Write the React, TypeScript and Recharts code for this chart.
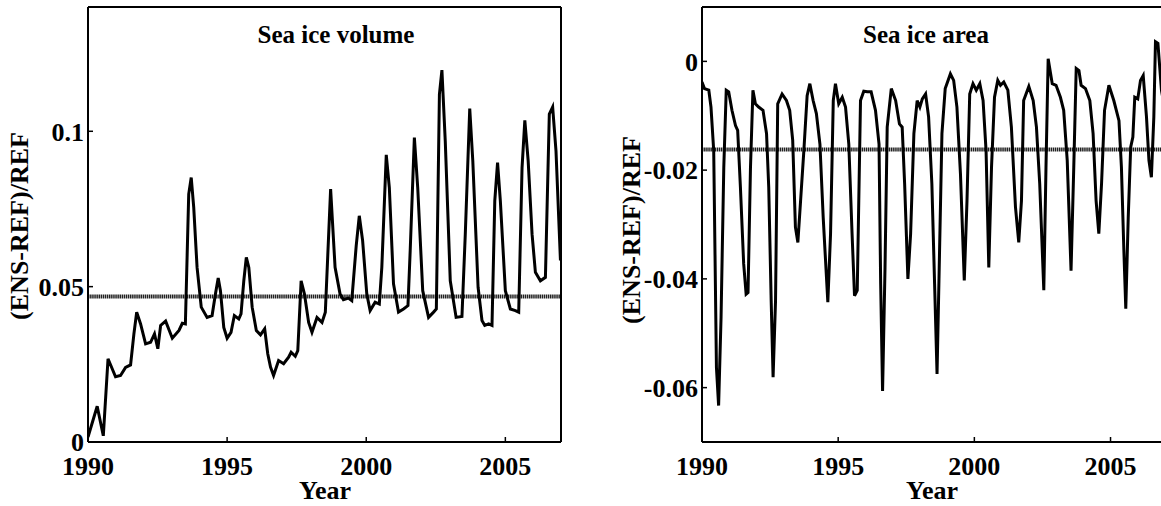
import { LineChart, Line, XAxis, YAxis, ReferenceLine } from "recharts";

// sea ice volume, (ENS-REF)/REF
const volumeYears = [
  1990.0, 1990.33, 1990.55, 1990.72, 1990.99, 1991.17, 1991.35, 1991.53, 1991.65, 1991.75,
  1991.89, 1992.07, 1992.25, 1992.39, 1992.51, 1992.61, 1992.79, 1993.03, 1993.27, 1993.39,
  1993.5, 1993.62, 1993.71, 1993.8, 1993.92, 1994.07, 1994.28, 1994.46, 1994.58, 1994.68,
  1994.76, 1994.88, 1995.0, 1995.14, 1995.26, 1995.42, 1995.5, 1995.6, 1995.69, 1995.78,
  1995.9, 1996.05, 1996.2, 1996.35, 1996.46, 1996.56, 1996.67, 1996.85, 1997.03, 1997.21,
  1997.3, 1997.45, 1997.54, 1997.66, 1997.78, 1997.93, 1998.05, 1998.23, 1998.41, 1998.53,
  1998.72, 1998.88, 1999.06, 1999.18, 1999.36, 1999.48, 1999.64, 1999.75, 1999.87, 2000.02,
  2000.14, 2000.32, 2000.47, 2000.56, 2000.72, 2000.83, 2000.98, 2001.16, 2001.34, 2001.5,
  2001.58, 2001.73, 2001.85, 2002.03, 2002.24, 2002.42, 2002.52, 2002.63, 2002.72, 2002.84,
  2003.02, 2003.23, 2003.44, 2003.56, 2003.72, 2003.83, 2004.02, 2004.16, 2004.26, 2004.4,
  2004.52, 2004.62, 2004.72, 2004.82, 2005.0, 2005.18, 2005.36, 2005.48, 2005.6, 2005.7,
  2005.82, 2005.96, 2006.08, 2006.26, 2006.44, 2006.58, 2006.7, 2006.82, 2006.98,
];
const volumeValues = [
  0.0016, 0.0115, 0.002, 0.0268, 0.021, 0.0214, 0.024, 0.0248, 0.0348, 0.0418,
  0.038, 0.0316, 0.0321, 0.0348, 0.03, 0.0375, 0.0389, 0.0334, 0.0359, 0.0382,
  0.038, 0.0798, 0.0851, 0.0755, 0.0562, 0.0434, 0.0401, 0.0407, 0.0476, 0.0528,
  0.0487, 0.0369, 0.0334, 0.0353, 0.0407, 0.0396, 0.0412, 0.0519, 0.0594, 0.0562,
  0.0434, 0.0359, 0.0345, 0.0364, 0.0284, 0.0241, 0.0214, 0.0262, 0.0252, 0.0273,
  0.0289, 0.0276, 0.0294, 0.0519, 0.0476, 0.0385, 0.0353, 0.0401, 0.0385, 0.0418,
  0.0814, 0.0562, 0.0476, 0.0458, 0.0463, 0.0455, 0.0632, 0.0728, 0.0648, 0.0476,
  0.0423, 0.045, 0.0444, 0.0562, 0.0924, 0.0819, 0.0509, 0.0418, 0.0428, 0.0439,
  0.0616, 0.098, 0.0819, 0.0487, 0.0401, 0.0418, 0.0428, 0.1119, 0.1197, 0.0969,
  0.0519, 0.0401, 0.0404, 0.0669, 0.1073, 0.0905, 0.0498, 0.0391, 0.0375, 0.038,
  0.0375, 0.0776, 0.0899, 0.0776, 0.0487, 0.0428, 0.0423, 0.0418, 0.0883, 0.1035,
  0.0905, 0.0669, 0.0546, 0.0519, 0.053, 0.1055, 0.1078, 0.0937, 0.0584,
];
const volumeMean = 0.0468;

// sea ice area, (ENS-REF)/REF
const areaYears = [
  1990.0, 1990.09, 1990.25, 1990.33, 1990.43, 1990.53, 1990.61, 1990.7, 1990.8, 1990.89,
  1990.98, 1991.1, 1991.23, 1991.31, 1991.41, 1991.53, 1991.62, 1991.69, 1991.78, 1991.87,
  1991.96, 1992.08, 1992.24, 1992.37, 1992.45, 1992.54, 1992.61, 1992.7, 1992.78, 1992.94,
  1993.1, 1993.22, 1993.33, 1993.43, 1993.52, 1993.62, 1993.74, 1993.86, 1993.96, 1994.08,
  1994.2, 1994.33, 1994.45, 1994.62, 1994.72, 1994.82, 1994.9, 1995.02, 1995.15, 1995.27,
  1995.39, 1995.51, 1995.6, 1995.7, 1995.82, 1995.94, 1996.07, 1996.21, 1996.37, 1996.5,
  1996.56, 1996.63, 1996.72, 1996.8, 1996.95, 1997.11, 1997.25, 1997.35, 1997.44, 1997.56,
  1997.66, 1997.78, 1997.9, 1998.0, 1998.09, 1998.21, 1998.32, 1998.44, 1998.54, 1998.63,
  1998.71, 1998.81, 1998.93, 1999.12, 1999.24, 1999.36, 1999.49, 1999.63, 1999.73, 1999.83,
  1999.95, 2000.07, 2000.2, 2000.32, 2000.43, 2000.53, 2000.63, 2000.74, 2000.86, 2000.96,
  2001.08, 2001.23, 2001.36, 2001.51, 2001.63, 2001.73, 2001.81, 2002.0, 2002.16, 2002.28,
  2002.4, 2002.55, 2002.63, 2002.71, 2002.86, 2003.0, 2003.16, 2003.28, 2003.41, 2003.55,
  2003.65, 2003.74, 2003.84, 2003.92, 2004.08, 2004.24, 2004.36, 2004.47, 2004.57, 2004.67,
  2004.78, 2004.94, 2005.12, 2005.31, 2005.4, 2005.49, 2005.56, 2005.65, 2005.74, 2005.82,
  2005.89, 2006.0, 2006.1, 2006.2, 2006.32, 2006.41, 2006.5, 2006.59, 2006.65, 2006.74,
  2006.87, 2007.0,
];
const areaValues = [
  -0.0038, -0.005, -0.0053, -0.0084, -0.0164, -0.0563, -0.0633, -0.047, -0.0195, -0.0053,
  -0.0056, -0.009, -0.0118, -0.0127, -0.0231, -0.0372, -0.0428, -0.0425, -0.0195, -0.0053,
  -0.0078, -0.0084, -0.009, -0.0133, -0.0231, -0.044, -0.0581, -0.044, -0.0078, -0.006,
  -0.0072, -0.009, -0.0145, -0.0305, -0.0333, -0.0256, -0.0164, -0.0063, -0.0041, -0.0072,
  -0.0096, -0.0152, -0.0287, -0.0443, -0.0317, -0.0072, -0.0041, -0.0078, -0.0066, -0.0084,
  -0.0152, -0.0317, -0.0431, -0.0421, -0.0072, -0.0055, -0.0056, -0.0056, -0.009, -0.0152,
  -0.0409, -0.0606, -0.0379, -0.0121, -0.005, -0.0072, -0.0115, -0.0121, -0.0225, -0.04,
  -0.0317, -0.0133, -0.0072, -0.0084, -0.0069, -0.006, -0.0102, -0.0225, -0.0409, -0.0575,
  -0.0379, -0.0133, -0.005, -0.0023, -0.0035, -0.0084, -0.0207, -0.0403, -0.0256, -0.006,
  -0.0041, -0.0053, -0.0041, -0.0072, -0.0164, -0.0379, -0.0195, -0.0066, -0.0035, -0.0044,
  -0.0038, -0.0053, -0.0121, -0.0268, -0.0333, -0.0256, -0.0072, -0.0046, -0.0072, -0.0121,
  -0.0225, -0.0421, -0.0195, 0.0005, -0.0041, -0.0044, -0.0066, -0.009, -0.0182, -0.0385,
  -0.0195, -0.0013, -0.0017, -0.0044, -0.005, -0.0072, -0.0133, -0.0256, -0.0317, -0.0225,
  -0.009, -0.0044, -0.0072, -0.0109, -0.0195, -0.0348, -0.0455, -0.0287, -0.0158, -0.0139,
  -0.0066, -0.0069, -0.0035, -0.0026, -0.0102, -0.0182, -0.0213, -0.0102, 0.0036, 0.0033,
  -0.0053, -0.009,
];
const areaMean = -0.0162;

const yearTicks = [1990, 1995, 2000, 2005];
const volumeTicks = [0, 0.05, 0.1];
const areaTicks = [-0.06, -0.04, -0.02, 0];

const volumeData = volumeYears.map((year, i) => ({ year, value: volumeValues[i] }));
const areaData = areaYears.map((year, i) => ({ year, value: areaValues[i] }));

const serif = '"Liberation Serif", "Times New Roman", serif';
const tickStyle = { fill: "#000", fontSize: 26, fontWeight: 700, fontFamily: serif };
const axisLine = { stroke: "#000", strokeWidth: 2 };
const tickLine = { stroke: "#000", strokeWidth: 1.5 };
const blank = () => "";

type PanelProps = {
  data: { year: number; value: number }[];
  yDomain: [number, number];
  yTicks: number[];
  mean: number;
  yAxisWidth: number;
  margin: { top: number; right: number; bottom: number; left: number };
};

function Panel({ data, yDomain, yTicks, mean, yAxisWidth, margin }: PanelProps) {
  return (
    <LineChart width={600} height={506} data={data} margin={margin} style={{ fontFamily: serif }}>
      <XAxis
        dataKey="year"
        type="number"
        domain={[1990, 2007]}
        ticks={yearTicks}
        allowDataOverflow
        height={64}
        tickSize={-5}
        tickMargin={20}
        tick={tickStyle}
        axisLine={axisLine}
        tickLine={tickLine}
      />
      <XAxis
        xAxisId="top"
        orientation="top"
        type="number"
        domain={[1990, 2007]}
        ticks={yearTicks}
        height={1}
        tickSize={-5}
        tickFormatter={blank}
        axisLine={axisLine}
        tickLine={tickLine}
      />
      <YAxis
        type="number"
        domain={yDomain}
        ticks={yTicks}
        allowDataOverflow
        width={yAxisWidth}
        tickSize={-5}
        tickMargin={9}
        tick={tickStyle}
        tickFormatter={(v) => String(v)}
        axisLine={axisLine}
        tickLine={tickLine}
      />
      <YAxis
        yAxisId="right"
        orientation="right"
        type="number"
        domain={yDomain}
        ticks={yTicks}
        width={1}
        tickSize={-5}
        tickFormatter={blank}
        axisLine={axisLine}
        tickLine={tickLine}
      />
      <ReferenceLine y={mean} stroke="#222" strokeWidth={4} strokeDasharray="1.5 0.6" />
      <Line
        type="linear"
        dataKey="value"
        stroke="#000"
        strokeWidth={3}
        dot={false}
        isAnimationActive={false}
      />
    </LineChart>
  );
}

export default function App() {
  return (
    <div
      style={{
        position: "absolute",
        left: 0,
        top: 0,
        width: 1161,
        height: 506,
        overflow: "hidden",
        background: "#fff",
      }}
    >
      <div style={{ position: "absolute", left: 0, top: 0 }}>
        <Panel
          data={volumeData}
          yDomain={[0, 0.14]}
          yTicks={volumeTicks}
          mean={volumeMean}
          yAxisWidth={80}
          margin={{ top: 6, right: 38, bottom: 0, left: 8 }}
        />
      </div>
      <div style={{ position: "absolute", left: 600, top: 0 }}>
        <Panel
          data={areaData}
          yDomain={[-0.07, 0.01]}
          yTicks={areaTicks}
          mean={areaMean}
          yAxisWidth={90}
          margin={{ top: 6, right: 34, bottom: 0, left: 12 }}
        />
      </div>
      <svg
        width={1161}
        height={506}
        style={{ position: "absolute", left: 0, top: 0, pointerEvents: "none" }}
        fontFamily={serif}
        fontWeight={700}
      >
        <text x={336} y={43} fontSize={25} textAnchor="middle">Sea ice volume</text>
        <text x={926} y={43} fontSize={25} textAnchor="middle">Sea ice area</text>
        <text x={325} y={499} fontSize={26} textAnchor="middle">Year</text>
        <text x={932} y={499} fontSize={26} textAnchor="middle">Year</text>
        <text x={28} y={226} fontSize={26} textAnchor="middle" transform="rotate(-90 28 226)">
          (ENS-REF)/REF
        </text>
        <text x={640} y={230} fontSize={26} textAnchor="middle" transform="rotate(-90 640 230)">
          (ENS-REF)/REF
        </text>
      </svg>
    </div>
  );
}
